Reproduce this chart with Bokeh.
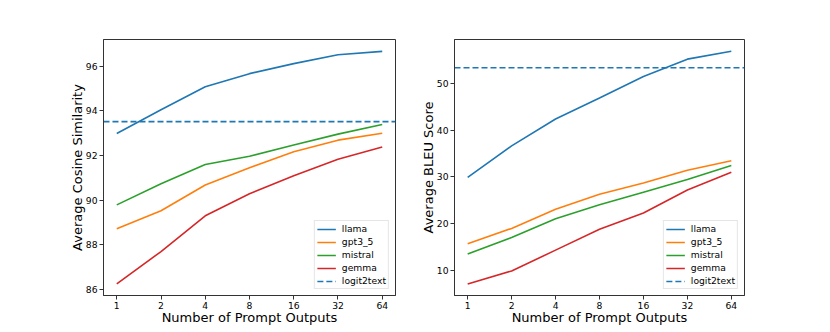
from bokeh.plotting import figure
from bokeh.layouts import row
from bokeh.models import FixedTicker, Range1d
from bokeh.embed import file_html
from bokeh.resources import INLINE

x_labels = ["1", "2", "4", "8", "16", "32", "64"]
series_names = ["llama", "gpt3_5", "mistral", "gemma"]
colors = ["#1f77b4", "#ff7f0e", "#2ca02c", "#d62728"]

cos_llama = [92.99, 94.05, 95.08, 95.67, 96.12, 96.52, 96.67]
cos_gpt = [88.72, 89.53, 90.68, 91.45, 92.17, 92.69, 93.00]
cos_mistral = [89.79, 90.74, 91.60, 91.97, 92.47, 92.96, 93.39]
cos_gemma = [86.25, 87.70, 89.30, 90.29, 91.10, 91.83, 92.38]
cos_logit2text = 93.52

bleu_llama = [29.9, 36.65, 42.4, 46.9, 51.5, 55.2, 56.9]
bleu_gpt = [15.7, 19.0, 23.1, 26.3, 28.7, 31.45, 33.45]
bleu_mistral = [13.55, 17.05, 21.05, 24.05, 26.75, 29.45, 32.45]
bleu_gemma = [7.13, 9.9, 14.35, 18.8, 22.3, 27.2, 31.0]
bleu_logit2text = 53.35

cos_ticks = [86, 88, 90, 92, 94, 96]
bleu_ticks = [10, 20, 30, 40, 50]

FONT = "DejaVu Sans"
EDGE = "#333333"


def make_plot(series, ref, y_label, yr, yticks, width, border_left, border_right):
    n = len(x_labels)
    x_idx = list(range(n))
    xr = (-0.3, n - 1 + 0.3)
    p = figure(
        output_backend="svg",
        toolbar_location=None,
        width=width,
        height=332,
        min_border_left=border_left,
        min_border_right=border_right,
        min_border_top=39,
        min_border_bottom=37,
        x_range=Range1d(*xr),
        y_range=Range1d(*yr),
    )
    for name, col, vals in zip(series_names, colors, series):
        p.line(x_idx, vals, line_color=col, line_width=1.6, legend_label=name)
    p.line(list(xr), [ref, ref], line_color=colors[0], line_width=1.6,
           line_dash="6 3", legend_label="logit2text")

    p.xgrid.visible = False
    p.ygrid.visible = False
    p.outline_line_color = EDGE
    p.outline_line_width = 1
    p.background_fill_color = "white"
    p.border_fill_color = "white"

    p.xaxis.ticker = FixedTicker(ticks=x_idx)
    p.xaxis.major_label_overrides = {i: l for i, l in enumerate(x_labels)}
    p.yaxis.ticker = FixedTicker(ticks=yticks)
    for ax in (p.xaxis, p.yaxis):
        ax.minor_tick_line_color = None
        ax.major_tick_in = 0
        ax.major_tick_out = 4
        ax.major_tick_line_color = EDGE
        ax.axis_line_color = EDGE
        ax.major_label_text_font = FONT
        ax.major_label_text_font_size = "9.2px"
        ax.major_label_text_color = "black"
        ax.axis_label_text_font = FONT
        ax.axis_label_text_font_size = "13px"
        ax.axis_label_text_font_style = "normal"
        ax.axis_label_text_color = "black"
        ax.major_label_standoff = 2
        ax.axis_label_standoff = -2
    p.xaxis.major_label_standoff = 2
    p.xaxis.axis_label_standoff = -2
    p.xaxis.axis_label = "Number of Prompt Outputs"
    p.yaxis.axis_label = y_label

    lg = p.legend[0]
    lg.location = "bottom_right"
    lg.label_text_font = FONT
    lg.label_text_font_size = "9.2px"
    lg.label_text_color = "black"
    lg.label_height = 10
    lg.glyph_height = 10
    lg.glyph_width = 19
    lg.spacing = 2
    lg.padding = 2
    lg.margin = 6
    lg.label_standoff = 6
    lg.border_line_color = "#cccccc"
    lg.border_line_width = 1
    lg.background_fill_alpha = 0.8
    return p


p1 = make_plot([cos_llama, cos_gpt, cos_mistral, cos_gemma], cos_logit2text,
               "Average Cosine Similarity", (85.73, 97.2), cos_ticks, 416, 103, 21)
p2 = make_plot([bleu_llama, bleu_gpt, bleu_mistral, bleu_gemma], bleu_logit2text,
               "Average BLEU Score", (4.65, 59.4), bleu_ticks, 398, 38, 70)

layout = row(p1, p2)
open("out.html", "w").write(file_html(layout, INLINE))
